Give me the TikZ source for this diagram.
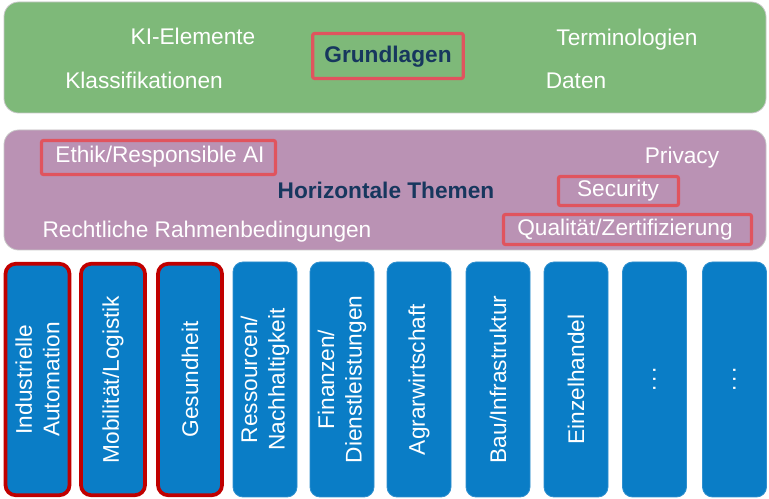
\documentclass[tikz,border=0pt]{standalone}
\usepackage{fontspec}
\setmainfont{Liberation Sans}
\definecolor{gfill}{RGB}{126,185,121}
\definecolor{pfill}{RGB}{186,146,180}
\definecolor{bfill}{RGB}{10,125,198}
\definecolor{hred}{RGB}{224,84,94}
\definecolor{dred}{RGB}{192,0,0}
\definecolor{navy}{RGB}{23,55,94}
\newcommand{\vdotsx}{.\kern2pt.\kern2pt.}
\tikzset{
  band/.style={draw=gray!45, line width=0.6pt, rounded corners=11pt, minimum width=571.5pt},
  lbl/.style={text=white, font=\fontsize{17}{20.5}\selectfont, inner sep=0pt},
  ttl/.style={text=navy, font=\fontsize{17}{20.5}\selectfont\bfseries, inner sep=0pt},
  hbox/.style={draw=hred, line width=2.4pt, rounded corners=1.5pt},
  colbox/.style={fill=bfill, draw=bfill!85!white, line width=0.6pt, rounded corners=7.5pt, rotate=90,
    minimum width=176.25pt, minimum height=48pt, text=white, align=center,
    font=\fontsize{17}{20.5}\selectfont, inner sep=0pt},
  redcol/.style={colbox, draw=dred, line width=2.8pt, minimum width=173.5pt}
}
\begin{document}
\begin{tikzpicture}[x=0.75pt,y=-0.75pt]
\useasboundingbox (0,0) rectangle (769,499);
% Grundlagen band
\node[band, fill=gfill, minimum height=83.25pt] (g) at (385,57.5) {};
\node[lbl] (ki) at (193,36) {KI-Elemente};
\node[lbl] (term) at (627,40) {Terminologien};
\node[lbl] (klass) at (144,80) {Klassifikationen};
\node[lbl] (daten) at (576,81) {Daten};
\node[hbox, minimum width=113pt, minimum height=33.75pt] (gb) at (388,56) {};
\node[ttl] (gt) at (388,57) {Grundlagen};
% Horizontale Themen band
\node[band, fill=pfill, minimum height=90pt] (h) at (385,190) {};
\node[hbox, minimum width=175.5pt, minimum height=25.5pt] (eb) at (158.5,157.5) {};
\node[lbl] (ethik) at (160,157) {Ethik/Responsible AI};
\node[lbl] (priv) at (682,158) {Privacy};
\node[ttl] (ht) at (386,190) {Horizontale Themen};
\node[hbox, minimum width=90pt, minimum height=21.75pt] (sb) at (618.5,191) {};
\node[lbl] (sec) at (618,191) {Security};
\node[hbox, minimum width=186pt, minimum height=22.5pt] (qb) at (627.5,229.5) {};
\node[lbl] (qual) at (625,230) {Qualität/Zertifizierung};
\node[lbl] (recht) at (207,232) {Rechtliche Rahmenbedingungen};
% columns
\node[redcol] (c1) at (37.5,379.5) {Industrielle\\Automation};
\node[redcol] (c2) at (113,379.5) {Mobilität/Logistik};
\node[redcol] (c3) at (190,379.5) {Gesundheit};
\node[colbox] (c4) at (265,379.5) {Ressourcen/\\Nachhaltigkeit};
\node[colbox] (c5) at (342,379.5) {Finanzen/\\Dienstleistungen};
\node[colbox] (c6) at (419,379.5) {Agrarwirtschaft};
\node[colbox] (c7) at (498,379.5) {Bau/Infrastruktur};
\node[colbox] (c8) at (576,379.5) {Einzelhandel};
\node[colbox] (c9) at (654.5,379.5) {\vdotsx};
\node[colbox] (c10) at (734.5,379.5) {\vdotsx};
\end{tikzpicture}
\end{document}
